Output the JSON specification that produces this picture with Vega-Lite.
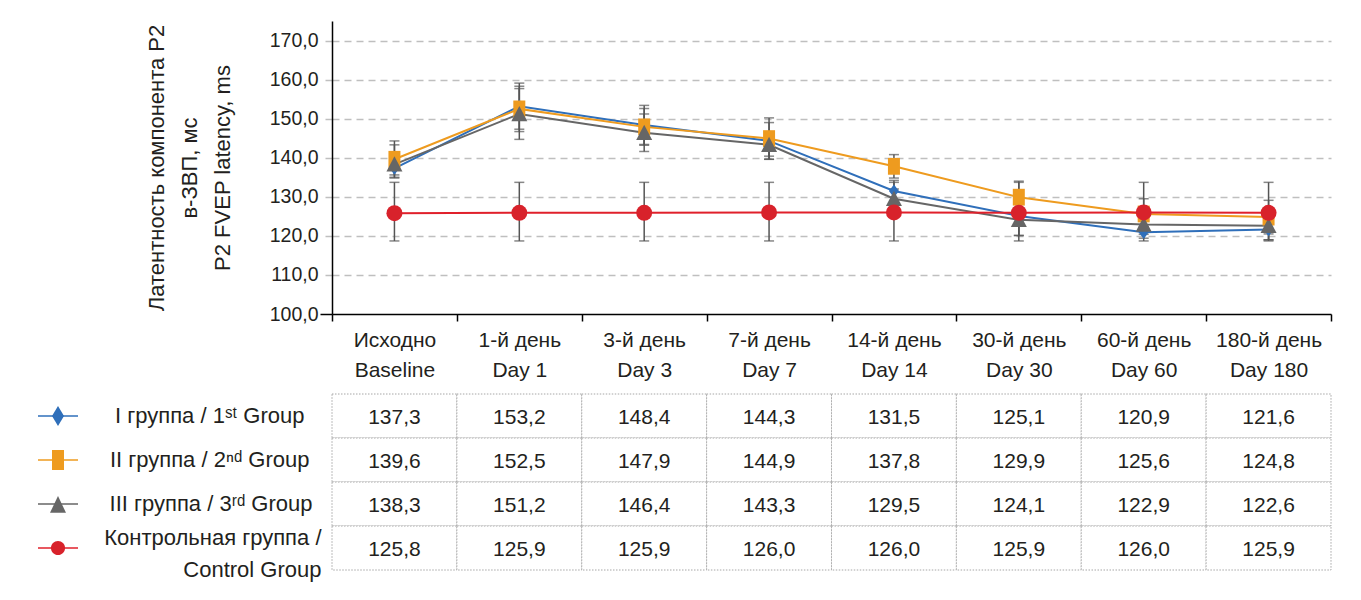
{
  "$schema": "https://vega.github.io/schema/vega-lite/v6.json",
  "padding": {"left": 37, "top": 21, "right": 5, "bottom": 5},
  "background": "white",
  "config": {
    "font": "Liberation Sans, Arial, sans-serif",
    "view": {"stroke": null},
    "locale": {"number": {"decimal": ",", "thousands": " ", "grouping": [3], "currency": ["", ""]}},
    "axis": {"labelColor": "#231f20", "titleColor": "#231f20", "titleFontWeight": "normal"}
  },
  "datasets": {
    "main": [
      {"d": "Исходно|Baseline", "g": "I", "v": 137.3, "lo": 134.8, "hi": 139.8},
      {"d": "1-й день|Day 1", "g": "I", "v": 153.2, "lo": 147.3, "hi": 159.1},
      {"d": "3-й день|Day 3", "g": "I", "v": 148.4, "lo": 143.4, "hi": 153.4},
      {"d": "7-й день|Day 7", "g": "I", "v": 144.3, "lo": 139.6, "hi": 149.0},
      {"d": "14-й день|Day 14", "g": "I", "v": 131.5, "lo": 128.8, "hi": 134.2},
      {"d": "30-й день|Day 30", "g": "I", "v": 125.1, "lo": 120.1, "hi": 130.1},
      {"d": "60-й день|Day 60", "g": "I", "v": 120.9, "lo": 119.4, "hi": 122.4},
      {"d": "180-й день|Day 180", "g": "I", "v": 121.6, "lo": 119.0, "hi": 124.2},
      {"d": "Исходно|Baseline", "g": "II", "v": 139.6, "lo": 135.0, "hi": 144.3},
      {"d": "1-й день|Day 1", "g": "II", "v": 152.5, "lo": 146.7, "hi": 158.3},
      {"d": "3-й день|Day 3", "g": "II", "v": 147.9, "lo": 143.2, "hi": 152.6},
      {"d": "7-й день|Day 7", "g": "II", "v": 144.9, "lo": 139.6, "hi": 150.2},
      {"d": "14-й день|Day 14", "g": "II", "v": 137.8, "lo": 134.8, "hi": 140.8},
      {"d": "30-й день|Day 30", "g": "II", "v": 129.9, "lo": 125.8, "hi": 134.0},
      {"d": "60-й день|Day 60", "g": "II", "v": 125.6, "lo": 121.7, "hi": 129.5},
      {"d": "180-й день|Day 180", "g": "II", "v": 124.8, "lo": 120.5, "hi": 129.1},
      {"d": "Исходно|Baseline", "g": "III", "v": 138.3, "lo": 135.6, "hi": 143.3},
      {"d": "1-й день|Day 1", "g": "III", "v": 151.2, "lo": 144.7, "hi": 157.7},
      {"d": "3-й день|Day 3", "g": "III", "v": 146.4, "lo": 141.6, "hi": 151.2},
      {"d": "7-й день|Day 7", "g": "III", "v": 143.3, "lo": 140.4, "hi": 146.2},
      {"d": "14-й день|Day 14", "g": "III", "v": 129.5, "lo": 127.0, "hi": 132.0},
      {"d": "30-й день|Day 30", "g": "III", "v": 124.1, "lo": 120.1, "hi": 128.1},
      {"d": "60-й день|Day 60", "g": "III", "v": 122.9, "lo": 120.4, "hi": 125.4},
      {"d": "180-й день|Day 180", "g": "III", "v": 122.6, "lo": 119.0, "hi": 126.2},
      {"d": "Исходно|Baseline", "g": "K", "v": 125.8, "lo": 118.7, "hi": 133.7},
      {"d": "1-й день|Day 1", "g": "K", "v": 125.9, "lo": 118.7, "hi": 133.7},
      {"d": "3-й день|Day 3", "g": "K", "v": 125.9, "lo": 118.7, "hi": 133.7},
      {"d": "7-й день|Day 7", "g": "K", "v": 126.0, "lo": 118.7, "hi": 133.7},
      {"d": "14-й день|Day 14", "g": "K", "v": 126.0, "lo": 118.7, "hi": 133.7},
      {"d": "30-й день|Day 30", "g": "K", "v": 125.9, "lo": 118.7, "hi": 133.7},
      {"d": "60-й день|Day 60", "g": "K", "v": 126.0, "lo": 118.7, "hi": 133.7},
      {"d": "180-й день|Day 180", "g": "K", "v": 125.9, "lo": 118.7, "hi": 133.7}
    ]
  },
  "bounds": "flush",
  "columns": 2,
  "spacing": {"row": 80, "column": 254},
  "resolve": {"scale": {"shape": "independent"}},
  "concat": [
    {
      "width": 40,
      "height": 293,
      "data": {"values": [{"e": 1}]},
      "mark": {"type": "point", "opacity": 0}
    },
    {
      "width": 999,
      "height": 293,
      "data": {"name": "main"},
      "encoding": {
        "x": {
          "field": "d", "type": "nominal",
          "scale": {"domain": ["Исходно|Baseline", "1-й день|Day 1", "3-й день|Day 3", "7-й день|Day 7", "14-й день|Day 14", "30-й день|Day 30", "60-й день|Day 60", "180-й день|Day 180"], "paddingInner": 0, "paddingOuter": 0},
          "axis": {
            "title": null, "labelAngle": 0, "labelExpr": "split(datum.label, '|')",
            "labelFontSize": 21, "labelLineHeight": 30, "labelPadding": 8,
            "tickBand": "extent", "tickSize": 7, "tickColor": "#000", "tickWidth": 1.5,
            "domainColor": "#000", "domainWidth": 1.5, "grid": false
          }
        }
      },
      "layer": [
        {
          "mark": {"type": "rule", "color": "#555555", "strokeWidth": 1.5},
          "encoding": {
            "y": {
              "field": "lo", "type": "quantitative",
              "scale": {"domain": [100, 175], "nice": false, "zero": false},
              "axis": {
                "title": ["Латентность компонента P2", "в-ЗВП, мс", "P2 FVEP latency, ms"],
                "titleFontSize": 22, "titleLineHeight": 33, "titlePadding": 35,
                "values": [100, 110, 120, 130, 140, 150, 160, 170],
                "format": ".1f", "labelFontSize": 19.5, "labelPadding": 2,
                "tickSize": 12, "tickWidth": 1.5,
                "tickColor": {"condition": {"test": "datum.value === 100", "value": "#000000"}, "value": "#bfbfbf"},
                "tickDash": {"condition": {"test": "datum.value === 100", "value": []}, "value": [7, 5]},
                "domainColor": "#000", "domainWidth": 1.5,
                "grid": true, "gridColor": "#bfbfbf", "gridDash": [7, 5], "gridWidth": 1.5,
                "gridOpacity": {"condition": {"test": "datum.value === 100", "value": 0}, "value": 1}
              }
            },
            "y2": {"field": "hi"}
          }
        },
        {
          "mark": {"type": "tick", "color": "#555555", "thickness": 1.5, "size": 10},
          "encoding": {"y": {"field": "lo", "type": "quantitative"}}
        },
        {
          "mark": {"type": "tick", "color": "#555555", "thickness": 1.5, "size": 10},
          "encoding": {"y": {"field": "hi", "type": "quantitative"}}
        },
        {
          "mark": {"type": "line", "strokeWidth": 2},
          "encoding": {
            "y": {"field": "v", "type": "quantitative"},
            "stroke": {"field": "g", "type": "nominal", "scale": {"domain": ["I", "II", "III", "K"], "range": ["#2f6fba", "#ee9b1f", "#666666", "#e0202b"]}, "legend": null}
          }
        },
        {
          "mark": {"type": "point", "filled": true, "opacity": 1, "size": 256},
          "encoding": {
            "y": {"field": "v", "type": "quantitative"},
            "shape": {"field": "g", "type": "nominal", "scale": {"domain": ["I", "II", "III", "K"], "range": ["M0,-0.82L0.63,0L0,0.82L-0.63,0Z", "M-0.75,-1.05H0.75V1.05H-0.75Z", "M0,-1.0L1.0,0.9H-1.0Z", "circle"]}, "legend": null},
            "color": {"field": "g", "type": "nominal", "scale": {"domain": ["I", "II", "III", "K"], "range": ["#2f6fba", "#ee9b1f", "#666666", "#d8222b"]}, "legend": null}
          }
        }
      ]
    },
    {
      "width": 40,
      "height": 176,
      "data": {"name": "main"},
      "transform": [{"filter": "datum.d === 'Исходно|Baseline'"}],
      "encoding": {
        "y": {"field": "g", "type": "nominal", "scale": {"domain": ["I", "II", "III", "K"], "paddingInner": 0, "paddingOuter": 0}, "axis": null}
      },
      "layer": [
        {
          "mark": {"type": "rule", "strokeWidth": 1.5},
          "encoding": {
            "x": {"datum": 0, "type": "quantitative", "scale": {"domain": [0, 1], "nice": false, "zero": false}, "axis": null},
            "x2": {"datum": 1},
            "stroke": {"field": "g", "type": "nominal", "legend": null}
          }
        },
        {
          "mark": {"type": "point", "filled": true, "opacity": 1, "size": 256},
          "encoding": {
            "x": {"datum": 0.5, "type": "quantitative"},
            "shape": {"field": "g", "type": "nominal", "scale": {"domain": ["I", "II", "III", "K"], "range": ["M0,-1.25L0.75,0L0,1.25L-0.75,0Z", "M-0.75,-1.25H0.75V1.25H-0.75Z", "M0,-1.0L1.0,1.1H-1.0Z", "M-0.88,0A0.88,0.88,0,1,1,0.88,0A0.88,0.88,0,1,1,-0.88,0Z"]}, "legend": null},
            "color": {"field": "g", "type": "nominal", "legend": null}
          }
        }
      ]
    },
    {
      "width": 999,
      "height": 176,
      "data": {"name": "main"},
      "encoding": {
        "x": {
          "field": "d", "type": "nominal",
          "scale": {"domain": ["Исходно|Baseline", "1-й день|Day 1", "3-й день|Day 3", "7-й день|Day 7", "14-й день|Day 14", "30-й день|Day 30", "60-й день|Day 60", "180-й день|Day 180"], "paddingInner": 0, "paddingOuter": 0},
          "axis": null
        },
        "y": {
          "field": "g", "type": "nominal",
          "scale": {"domain": ["I", "II", "III", "K"], "paddingInner": 0, "paddingOuter": 0},
          "axis": {
            "title": null, "domain": false, "ticks": false, "grid": false,
            "labelFontSize": 22, "labelLineHeight": 32, "labelLimit": 400,
            "labelPadding": {"condition": [
              {"test": "datum.value === 'I'", "value": 28},
              {"test": "datum.value === 'II'", "value": 23},
              {"test": "datum.value === 'III'", "value": 20}
            ], "value": 11},
            "labelOffset": {"condition": {"test": "datum.value === 'K'", "value": -10}, "value": 0},
            "labelExpr": "datum.value === 'I' ? 'I группа / 1ˢᵗ Group' : datum.value === 'II' ? 'II группа / 2ⁿᵈ Group' : datum.value === 'III' ? 'III группа / 3ʳᵈ Group' : ['Контрольная группа /', 'Control Group']"
          }
        }
      },
      "layer": [
        {"mark": {"type": "rect", "fill": "white", "stroke": "#a6a6a6", "strokeDash": [1.5, 1.5], "strokeWidth": 1}},
        {
          "mark": {"type": "text", "fontSize": 21, "color": "#231f20", "dy": 2},
          "encoding": {"text": {"field": "v", "type": "quantitative", "format": ".1f"}}
        }
      ]
    }
  ]
}
